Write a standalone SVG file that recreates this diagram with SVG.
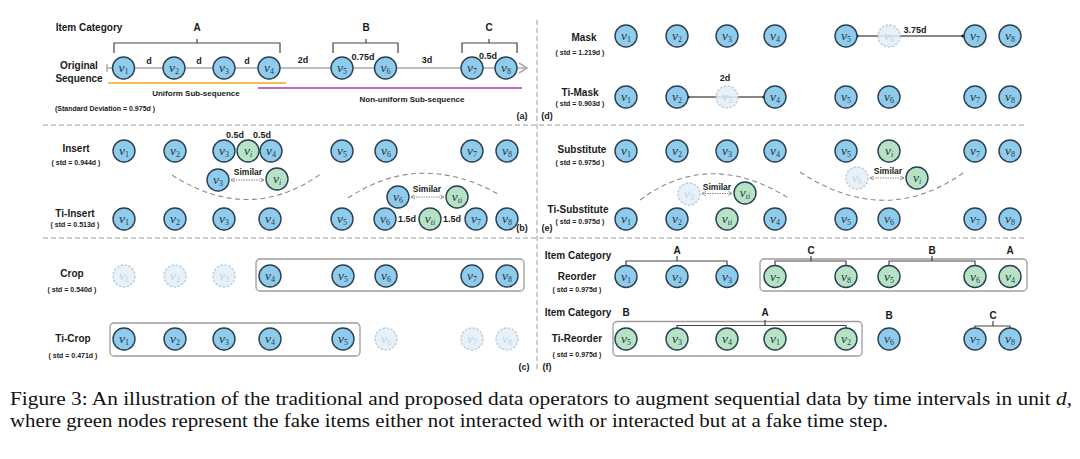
<svg xmlns="http://www.w3.org/2000/svg" width="1080" height="459" viewBox="0 0 1080 459">
<style>
.bg{fill:#fff}
.node circle{stroke:#2a3f55;stroke-width:1.4}
.b circle{fill:#8fcbea}
.g circle{fill:#b7e3c5}
.f circle{fill:#e3eff8;stroke:#b4c5d3;stroke-dasharray:2.5 1.5;opacity:.85}
.node text{font-family:"Liberation Serif",serif;font-style:italic;font-size:13.5px;fill:#2a3a4a;text-anchor:middle}
.f text{fill:#c3d2dd}
.s{font-size:8px;font-style:normal}
.si{font-size:8px}
.t{font-family:"Liberation Sans",Arial,sans-serif;font-weight:bold;fill:#1a1a1a;text-anchor:middle}
.l{font-size:10px}
.m{font-size:9px}
.sd{font-size:7px}
.sub{font-size:8px}
.sim{font-size:8.5px}
.sep{stroke:#9a9a9a;stroke-width:1;stroke-dasharray:5 3;fill:none}
.br{stroke:#444;stroke-width:1.2;fill:none}
.curve{stroke:#8a8a8a;stroke-width:1.1;stroke-dasharray:5 3.5;fill:none}
.dots{stroke:#888;stroke-width:1;stroke-dasharray:1.5 1;fill:none;marker-start:url(#ah);marker-end:url(#ah)}
.box{fill:none;stroke:#9d9d9d;stroke-width:1.3}
.blk{stroke:#111;stroke-width:1.1;fill:none}
.cap{font-family:"Liberation Serif","Times New Roman",serif;font-size:19px;fill:#111}
</style>
<defs>
<marker id="ah" viewBox="0 0 6 6" refX="5" refY="3" markerWidth="5" markerHeight="5" orient="auto-start-reverse" markerUnits="userSpaceOnUse">
<path d="M0.5,0.5 L5,3 L0.5,5.5" fill="none" stroke="#777" stroke-width="0.9"/>
</marker>
</defs>
<rect class="bg" x="0" y="0" width="1080" height="459"/>

<g id="separators">
<line class="sep" x1="43" y1="125" x2="1027" y2="125"/>
<line class="sep" x1="43" y1="238" x2="1027" y2="238"/>
<line class="sep" x1="537" y1="20" x2="537" y2="372"/>
</g>

<g id="connectors">
<line x1="107" y1="68" x2="526" y2="68" stroke="#aaa" stroke-width="1.6"/>
<line x1="107" y1="64" x2="107" y2="72" stroke="#aaa" stroke-width="1.4"/>
<path d="M519,63 L527,68 L519,73" fill="none" stroke="#aaa" stroke-width="1.5"/>
<path class="br" d="M114,53 V43 H280 V53 M197,43 V39"/>
<path class="br" d="M333,53 V43 H398 V53 M366,43 V39"/>
<path class="br" d="M462,53 V43 H517 V53 M489,43 V39"/>
<line x1="108" y1="83" x2="286" y2="83" stroke="#f5a623" stroke-width="1.6"/>
<line x1="258" y1="88" x2="522" y2="88" stroke="#a83cb5" stroke-width="1.6"/>
<line class="blk" x1="857" y1="36" x2="963" y2="36"/>
<circle cx="857" cy="36" r="1.6" fill="#111"/><circle cx="963" cy="36" r="1.6" fill="#111"/>
<line class="blk" x1="688" y1="97" x2="764" y2="97"/>
<circle cx="688" cy="97" r="1.6" fill="#111"/><circle cx="764" cy="97" r="1.6" fill="#111"/>
<path class="curve" d="M172,175 Q250,225 322,173"/>
<path class="curve" d="M348,198 Q420,150 500,195"/>
<path class="curve" d="M640,200 Q710,148 790,199"/>
<path class="curve" d="M800,172 Q885,228 963,173"/>
<line class="dots" x1="231" y1="180" x2="264" y2="180"/>
<line class="dots" x1="411" y1="197" x2="444" y2="197"/>
<line class="dots" x1="702" y1="193.5" x2="732" y2="193.5"/>
<line class="dots" x1="870" y1="178" x2="904" y2="178"/>
<rect class="box" x="256" y="259" width="268" height="32" rx="4"/>
<rect class="box" x="110" y="323" width="250" height="33" rx="4"/>
<rect class="box" x="760" y="259" width="267" height="32" rx="4"/>
<rect class="box" x="613" y="321.5" width="249" height="34.5" rx="4"/>
<path class="br" d="M626,265 V261 H727 V265 M677,261 V256"/>
<path class="br" d="M775,265 V261 H846 V265 M811,261 V256"/>
<path class="br" d="M889,265 V261 H975 V265 M932,261 V256"/>
<path class="br" d="M677,329 V325.5 H846 V329 M765,325.5 V320"/>
<path class="br" d="M975,329 V326 H1010 V329 M993,326 V321"/>
</g>

<g id="labels">
<text class="t l" x="89" y="30.5">Item Category</text>
<text class="t l" x="197" y="30.5">A</text>
<text class="t l" x="366" y="30.5">B</text>
<text class="t l" x="489" y="30.5">C</text>
<text class="t l" x="79" y="68.5">Original</text>
<text class="t l" x="79" y="81.5">Sequence</text>
<text class="t m" x="149" y="64">d</text>
<text class="t m" x="199" y="64">d</text>
<text class="t m" x="247" y="64">d</text>
<text class="t m" x="303" y="63">2d</text>
<text class="t m" x="363" y="60">0.75d</text>
<text class="t m" x="427" y="63">3d</text>
<text class="t m" x="488" y="59">0.5d</text>
<text class="t sub" x="196" y="96">Uniform Sub-sequence</text>
<text class="t sub" x="412" y="102">Non-uniform Sub-sequence</text>
<text class="t sd" x="105" y="110.5">(Standard Deviation = 0.975d )</text>
<text class="t m" x="522" y="118.5">(a)</text>
<text class="t m" x="547" y="118.5">(d)</text>
<text class="t l" x="584" y="40.5">Mask</text>
<text class="t sd" x="580" y="54.5">( std = 1.219d )</text>
<text class="t m" x="915" y="33">3.75d</text>
<text class="t l" x="580" y="95.5">Ti-Mask</text>
<text class="t sd" x="580" y="105.5">( std = 0.903d )</text>
<text class="t m" x="725" y="81">2d</text>
<text class="t l" x="76" y="151.5">Insert</text>
<text class="t sd" x="76" y="164.5">( std = 0.944d )</text>
<text class="t m" x="235" y="138">0.5d</text>
<text class="t m" x="262" y="138">0.5d</text>
<text class="t sim" x="248" y="175">Similar</text>
<text class="t sim" x="427" y="192">Similar</text>
<text class="t l" x="75" y="216.5">Ti-Insert</text>
<text class="t sd" x="75" y="226.5">( std = 0.513d )</text>
<text class="t m" x="407" y="222">1.5d</text>
<text class="t m" x="452" y="222">1.5d</text>
<text class="t m" x="522" y="230.5">(b)</text>
<text class="t m" x="547" y="230.5">(e)</text>
<text class="t l" x="582" y="152.5">Substitute</text>
<text class="t sd" x="580" y="164.5">( std = 0.975d )</text>
<text class="t sim" x="717" y="190">Similar</text>
<text class="t sim" x="888" y="174">Similar</text>
<text class="t l" x="578" y="212.5">Ti-Substitute</text>
<text class="t sd" x="580" y="223.5">( std = 0.975d )</text>
<text class="t l" x="72" y="276.5">Crop</text>
<text class="t sd" x="72" y="291.5">( std = 0.540d )</text>
<text class="t l" x="73" y="341.5">Ti-Crop</text>
<text class="t sd" x="73" y="357.5">( std = 0.471d )</text>
<text class="t m" x="524" y="369.5">(c)</text>
<text class="t m" x="547" y="369.5">(f)</text>
<text class="t l" x="578" y="258.5">Item Category</text>
<text class="t l" x="677" y="254">A</text>
<text class="t l" x="811" y="254">C</text>
<text class="t l" x="932" y="254">B</text>
<text class="t l" x="1010" y="254">A</text>
<text class="t l" x="577" y="279.5">Reorder</text>
<text class="t sd" x="577" y="292">( std = 0.975d )</text>
<text class="t l" x="578" y="315.5">Item Category</text>
<text class="t l" x="626" y="315.5">B</text>
<text class="t l" x="765" y="315.5">A</text>
<text class="t l" x="889" y="319">B</text>
<text class="t l" x="993" y="319">C</text>
<text class="t l" x="577" y="341.5">Ti-Reorder</text>
<text class="t sd" x="577" y="357">( std = 0.975d )</text>
</g>

<g id="orig">
<g id="o1" class="node b"><circle cx="123.5" cy="68" r="11"/><text x="123.5" y="72">v<tspan class="s" dy="2">1</tspan></text></g>
<g id="o2" class="node b"><circle cx="174" cy="68" r="11"/><text x="174" y="72">v<tspan class="s" dy="2">2</tspan></text></g>
<g id="o3" class="node b"><circle cx="224" cy="68" r="11"/><text x="224" y="72">v<tspan class="s" dy="2">3</tspan></text></g>
<g id="o4" class="node b"><circle cx="269" cy="68" r="11"/><text x="269" y="72">v<tspan class="s" dy="2">4</tspan></text></g>
<g id="o5" class="node b"><circle cx="342" cy="68" r="11"/><text x="342" y="72">v<tspan class="s" dy="2">5</tspan></text></g>
<g id="o6" class="node b"><circle cx="385.5" cy="68" r="11"/><text x="385.5" y="72">v<tspan class="s" dy="2">6</tspan></text></g>
<g id="o7" class="node b"><circle cx="472" cy="68" r="11"/><text x="472" y="72">v<tspan class="s" dy="2">7</tspan></text></g>
<g id="o8" class="node b"><circle cx="506" cy="68" r="11"/><text x="506" y="72">v<tspan class="s" dy="2">8</tspan></text></g>
</g>

<g id="mask">
<g id="m1" class="node b"><circle cx="626" cy="36" r="11"/><text x="626" y="40">v<tspan class="s" dy="2">1</tspan></text></g>
<g id="m2" class="node b"><circle cx="677" cy="36" r="11"/><text x="677" y="40">v<tspan class="s" dy="2">2</tspan></text></g>
<g id="m3" class="node b"><circle cx="727" cy="36" r="11"/><text x="727" y="40">v<tspan class="s" dy="2">3</tspan></text></g>
<g id="m4" class="node b"><circle cx="775" cy="36" r="11"/><text x="775" y="40">v<tspan class="s" dy="2">4</tspan></text></g>
<g id="m5" class="node b"><circle cx="846" cy="36" r="11"/><text x="846" y="40">v<tspan class="s" dy="2">5</tspan></text></g>
<g id="m6" class="node f"><circle cx="889" cy="36" r="11"/><text x="889" y="40">v<tspan class="s" dy="2">6</tspan></text></g>
<g id="m7" class="node b"><circle cx="975" cy="36" r="11"/><text x="975" y="40">v<tspan class="s" dy="2">7</tspan></text></g>
<g id="m8" class="node b"><circle cx="1010" cy="36" r="11"/><text x="1010" y="40">v<tspan class="s" dy="2">8</tspan></text></g>
</g>

<g id="timask">
<g id="tm1" class="node b"><circle cx="626" cy="97" r="11"/><text x="626" y="101">v<tspan class="s" dy="2">1</tspan></text></g>
<g id="tm2" class="node b"><circle cx="677" cy="97" r="11"/><text x="677" y="101">v<tspan class="s" dy="2">2</tspan></text></g>
<g id="tm3" class="node f"><circle cx="727" cy="97" r="11"/><text x="727" y="101">v<tspan class="s" dy="2">3</tspan></text></g>
<g id="tm4" class="node b"><circle cx="775" cy="97" r="11"/><text x="775" y="101">v<tspan class="s" dy="2">4</tspan></text></g>
<g id="tm5" class="node b"><circle cx="846" cy="97" r="11"/><text x="846" y="101">v<tspan class="s" dy="2">5</tspan></text></g>
<g id="tm6" class="node b"><circle cx="889" cy="97" r="11"/><text x="889" y="101">v<tspan class="s" dy="2">6</tspan></text></g>
<g id="tm7" class="node b"><circle cx="975" cy="97" r="11"/><text x="975" y="101">v<tspan class="s" dy="2">7</tspan></text></g>
<g id="tm8" class="node b"><circle cx="1010" cy="97" r="11"/><text x="1010" y="101">v<tspan class="s" dy="2">8</tspan></text></g>
</g>

<g id="insert">
<g id="i1" class="node b"><circle cx="124" cy="151" r="11"/><text x="124" y="155">v<tspan class="s" dy="2">1</tspan></text></g>
<g id="i2" class="node b"><circle cx="175" cy="151" r="11"/><text x="175" y="155">v<tspan class="s" dy="2">2</tspan></text></g>
<g id="i3" class="node b"><circle cx="224" cy="151" r="11"/><text x="224" y="155">v<tspan class="s" dy="2">3</tspan></text></g>
<g id="ii" class="node g"><circle cx="248" cy="151" r="11"/><text x="248" y="155">v<tspan class="si" dy="2">i</tspan></text></g>
<g id="i4" class="node b"><circle cx="271" cy="151" r="11"/><text x="271" y="155">v<tspan class="s" dy="2">4</tspan></text></g>
<g id="i5" class="node b"><circle cx="342" cy="151" r="11"/><text x="342" y="155">v<tspan class="s" dy="2">5</tspan></text></g>
<g id="i6" class="node b"><circle cx="386" cy="151" r="11"/><text x="386" y="155">v<tspan class="s" dy="2">6</tspan></text></g>
<g id="i7" class="node b"><circle cx="472" cy="151" r="11"/><text x="472" y="155">v<tspan class="s" dy="2">7</tspan></text></g>
<g id="i8" class="node b"><circle cx="507" cy="151" r="11"/><text x="507" y="155">v<tspan class="s" dy="2">8</tspan></text></g>
<g id="is3" class="node b"><circle cx="218" cy="180" r="11"/><text x="218" y="184">v<tspan class="s" dy="2">3</tspan></text></g>
<g id="isi" class="node g"><circle cx="277" cy="179" r="11"/><text x="277" y="183">v<tspan class="si" dy="2">i</tspan></text></g>
<g id="is6" class="node b"><circle cx="398" cy="197" r="11"/><text x="398" y="201">v<tspan class="s" dy="2">6</tspan></text></g>
<g id="isti" class="node g"><circle cx="457" cy="197" r="11"/><text x="457" y="201">v<tspan class="si" dy="2">ti</tspan></text></g>
</g>

<g id="tiinsert">
<g id="ti1" class="node b"><circle cx="124" cy="219" r="11"/><text x="124" y="223">v<tspan class="s" dy="2">1</tspan></text></g>
<g id="ti2" class="node b"><circle cx="175" cy="219" r="11"/><text x="175" y="223">v<tspan class="s" dy="2">2</tspan></text></g>
<g id="ti3" class="node b"><circle cx="224" cy="219" r="11"/><text x="224" y="223">v<tspan class="s" dy="2">3</tspan></text></g>
<g id="ti4" class="node b"><circle cx="270" cy="219" r="11"/><text x="270" y="223">v<tspan class="s" dy="2">4</tspan></text></g>
<g id="ti5" class="node b"><circle cx="342" cy="219" r="11"/><text x="342" y="223">v<tspan class="s" dy="2">5</tspan></text></g>
<g id="ti6" class="node b"><circle cx="385" cy="219" r="11"/><text x="385" y="223">v<tspan class="s" dy="2">6</tspan></text></g>
<g id="titi" class="node g"><circle cx="430" cy="219" r="11"/><text x="430" y="223">v<tspan class="si" dy="2">ti</tspan></text></g>
<g id="ti7" class="node b"><circle cx="476" cy="219" r="11"/><text x="476" y="223">v<tspan class="s" dy="2">7</tspan></text></g>
<g id="ti8" class="node b"><circle cx="507" cy="219" r="11"/><text x="507" y="223">v<tspan class="s" dy="2">8</tspan></text></g>
</g>

<g id="substitute">
<g id="s1" class="node b"><circle cx="626" cy="151" r="11"/><text x="626" y="155">v<tspan class="s" dy="2">1</tspan></text></g>
<g id="s2" class="node b"><circle cx="677" cy="151" r="11"/><text x="677" y="155">v<tspan class="s" dy="2">2</tspan></text></g>
<g id="s3" class="node b"><circle cx="727" cy="151" r="11"/><text x="727" y="155">v<tspan class="s" dy="2">3</tspan></text></g>
<g id="s4" class="node b"><circle cx="775" cy="151" r="11"/><text x="775" y="155">v<tspan class="s" dy="2">4</tspan></text></g>
<g id="s5" class="node b"><circle cx="846" cy="151" r="11"/><text x="846" y="155">v<tspan class="s" dy="2">5</tspan></text></g>
<g id="si" class="node g"><circle cx="889" cy="151" r="11"/><text x="889" y="155">v<tspan class="si" dy="2">i</tspan></text></g>
<g id="s7" class="node b"><circle cx="975" cy="151" r="11"/><text x="975" y="155">v<tspan class="s" dy="2">7</tspan></text></g>
<g id="s8" class="node b"><circle cx="1010" cy="151" r="11"/><text x="1010" y="155">v<tspan class="s" dy="2">8</tspan></text></g>
<g id="ss3" class="node f"><circle cx="689" cy="194" r="11"/><text x="689" y="198">v<tspan class="s" dy="2">3</tspan></text></g>
<g id="ssti" class="node g"><circle cx="745" cy="193" r="11"/><text x="745" y="197">v<tspan class="si" dy="2">ti</tspan></text></g>
<g id="ss6" class="node f"><circle cx="857" cy="178" r="11"/><text x="857" y="182">v<tspan class="s" dy="2">6</tspan></text></g>
<g id="ssi" class="node g"><circle cx="917" cy="178" r="11"/><text x="917" y="182">v<tspan class="si" dy="2">i</tspan></text></g>
</g>

<g id="tisubstitute">
<g id="ts1" class="node b"><circle cx="626" cy="219" r="11"/><text x="626" y="223">v<tspan class="s" dy="2">1</tspan></text></g>
<g id="ts2" class="node b"><circle cx="677" cy="219" r="11"/><text x="677" y="223">v<tspan class="s" dy="2">2</tspan></text></g>
<g id="tsti" class="node g"><circle cx="727" cy="219" r="11"/><text x="727" y="223">v<tspan class="si" dy="2">ti</tspan></text></g>
<g id="ts4" class="node b"><circle cx="775" cy="219" r="11"/><text x="775" y="223">v<tspan class="s" dy="2">4</tspan></text></g>
<g id="ts5" class="node b"><circle cx="846" cy="219" r="11"/><text x="846" y="223">v<tspan class="s" dy="2">5</tspan></text></g>
<g id="ts6" class="node b"><circle cx="889" cy="219" r="11"/><text x="889" y="223">v<tspan class="s" dy="2">6</tspan></text></g>
<g id="ts7" class="node b"><circle cx="975" cy="219" r="11"/><text x="975" y="223">v<tspan class="s" dy="2">7</tspan></text></g>
<g id="ts8" class="node b"><circle cx="1010" cy="219" r="11"/><text x="1010" y="223">v<tspan class="s" dy="2">8</tspan></text></g>
</g>

<g id="crop">
<g id="c1" class="node f"><circle cx="124" cy="276" r="11"/><text x="124" y="280">v<tspan class="s" dy="2">1</tspan></text></g>
<g id="c2" class="node f"><circle cx="175" cy="276" r="11"/><text x="175" y="280">v<tspan class="s" dy="2">2</tspan></text></g>
<g id="c3" class="node f"><circle cx="224" cy="276" r="11"/><text x="224" y="280">v<tspan class="s" dy="2">3</tspan></text></g>
<g id="c4" class="node b"><circle cx="270" cy="276" r="11"/><text x="270" y="280">v<tspan class="s" dy="2">4</tspan></text></g>
<g id="c5" class="node b"><circle cx="343" cy="276" r="11"/><text x="343" y="280">v<tspan class="s" dy="2">5</tspan></text></g>
<g id="c6" class="node b"><circle cx="386" cy="276" r="11"/><text x="386" y="280">v<tspan class="s" dy="2">6</tspan></text></g>
<g id="c7" class="node b"><circle cx="472" cy="276" r="11"/><text x="472" y="280">v<tspan class="s" dy="2">7</tspan></text></g>
<g id="c8" class="node b"><circle cx="507" cy="276" r="11"/><text x="507" y="280">v<tspan class="s" dy="2">8</tspan></text></g>
</g>

<g id="ticrop">
<g id="tc1" class="node b"><circle cx="124" cy="339" r="11"/><text x="124" y="343">v<tspan class="s" dy="2">1</tspan></text></g>
<g id="tc2" class="node b"><circle cx="175" cy="339" r="11"/><text x="175" y="343">v<tspan class="s" dy="2">2</tspan></text></g>
<g id="tc3" class="node b"><circle cx="224" cy="339" r="11"/><text x="224" y="343">v<tspan class="s" dy="2">3</tspan></text></g>
<g id="tc4" class="node b"><circle cx="270" cy="339" r="11"/><text x="270" y="343">v<tspan class="s" dy="2">4</tspan></text></g>
<g id="tc5" class="node b"><circle cx="343" cy="339" r="11"/><text x="343" y="343">v<tspan class="s" dy="2">5</tspan></text></g>
<g id="tc6" class="node f"><circle cx="386" cy="339" r="11"/><text x="386" y="343">v<tspan class="s" dy="2">6</tspan></text></g>
<g id="tc7" class="node f"><circle cx="472" cy="339" r="11"/><text x="472" y="343">v<tspan class="s" dy="2">7</tspan></text></g>
<g id="tc8" class="node f"><circle cx="507" cy="339" r="11"/><text x="507" y="343">v<tspan class="s" dy="2">8</tspan></text></g>
</g>

<g id="reorder">
<g id="r1" class="node b"><circle cx="626" cy="276.5" r="11"/><text x="626" y="280.5">v<tspan class="s" dy="2">1</tspan></text></g>
<g id="r2" class="node b"><circle cx="677" cy="276.5" r="11"/><text x="677" y="280.5">v<tspan class="s" dy="2">2</tspan></text></g>
<g id="r3" class="node b"><circle cx="727" cy="276.5" r="11"/><text x="727" y="280.5">v<tspan class="s" dy="2">3</tspan></text></g>
<g id="r7" class="node g"><circle cx="775" cy="276.5" r="11"/><text x="775" y="280.5">v<tspan class="s" dy="2">7</tspan></text></g>
<g id="r8" class="node g"><circle cx="846" cy="276.5" r="11"/><text x="846" y="280.5">v<tspan class="s" dy="2">8</tspan></text></g>
<g id="r5" class="node g"><circle cx="889" cy="276.5" r="11"/><text x="889" y="280.5">v<tspan class="s" dy="2">5</tspan></text></g>
<g id="r6" class="node g"><circle cx="975" cy="276.5" r="11"/><text x="975" y="280.5">v<tspan class="s" dy="2">6</tspan></text></g>
<g id="r4" class="node g"><circle cx="1010" cy="276.5" r="11"/><text x="1010" y="280.5">v<tspan class="s" dy="2">4</tspan></text></g>
</g>

<g id="tireorder">
<g id="tr5" class="node g"><circle cx="626" cy="339" r="11"/><text x="626" y="343">v<tspan class="s" dy="2">5</tspan></text></g>
<g id="tr3" class="node g"><circle cx="677" cy="339" r="11"/><text x="677" y="343">v<tspan class="s" dy="2">3</tspan></text></g>
<g id="tr4" class="node g"><circle cx="727" cy="339" r="11"/><text x="727" y="343">v<tspan class="s" dy="2">4</tspan></text></g>
<g id="tr1" class="node g"><circle cx="775" cy="339" r="11"/><text x="775" y="343">v<tspan class="s" dy="2">1</tspan></text></g>
<g id="tr2" class="node g"><circle cx="846" cy="339" r="11"/><text x="846" y="343">v<tspan class="s" dy="2">2</tspan></text></g>
<g id="tr6" class="node b"><circle cx="889" cy="339" r="11"/><text x="889" y="343">v<tspan class="s" dy="2">6</tspan></text></g>
<g id="tr7" class="node b"><circle cx="975" cy="339" r="11"/><text x="975" y="343">v<tspan class="s" dy="2">7</tspan></text></g>
<g id="tr8" class="node b"><circle cx="1010" cy="339" r="11"/><text x="1010" y="343">v<tspan class="s" dy="2">8</tspan></text></g>
</g>

<g id="caption">
<text class="cap" x="10" y="405" textLength="1062" lengthAdjust="spacingAndGlyphs">Figure 3: An illustration of the traditional and proposed data operators to augment sequential data by time intervals in unit <tspan font-style="italic">d</tspan>,</text>
<text class="cap" x="10" y="427" textLength="878" lengthAdjust="spacingAndGlyphs">where green nodes represent the fake items either not interacted with or interacted but at a fake time step.</text>
</g>
</svg>
